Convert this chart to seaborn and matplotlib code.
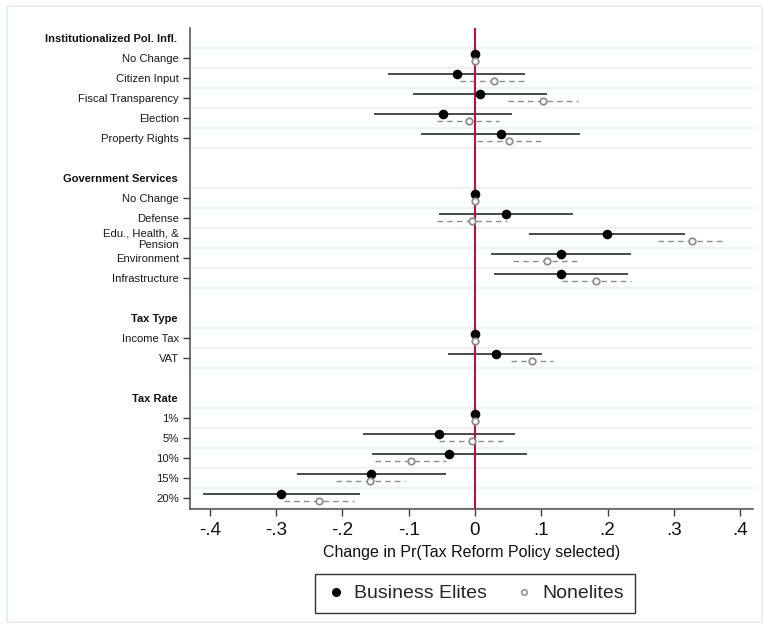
import numpy as np
import pandas as pd
import matplotlib
matplotlib.use("Agg")
import matplotlib.pyplot as plt
import seaborn as sns
from matplotlib.lines import Line2D
from matplotlib.patches import Rectangle

# Attribute groups and their levels (top to bottom)
group_titles = ["Institutionalized Pol. Infl.", "Government Services", "Tax Type", "Tax Rate"]
group_terms = [
    ["No Change", "Citizen Input", "Fiscal Transparency", "Election", "Property Rights"],
    ["No Change", "Defense", "Edu., Health, &\nPension", "Environment", "Infrastructure"],
    ["Income Tax", "VAT"],
    ["1%", "5%", "10%", "15%", "20%"],
]

# Business elites: AMCE point estimates and 95% CI bounds
elite_est = [0, -0.027, 0.008, -0.048, 0.039,
             0, 0.047, 0.199, 0.130, 0.130,
             0, 0.031,
             0, -0.054, -0.039, -0.157, -0.292]
elite_lo = [0, -0.131, -0.094, -0.152, -0.081,
            0, -0.054, 0.081, 0.024, 0.029,
            0, -0.041,
            0, -0.169, -0.156, -0.269, -0.410]
elite_hi = [0, 0.075, 0.109, 0.056, 0.159,
            0, 0.148, 0.317, 0.235, 0.231,
            0, 0.101,
            0, 0.061, 0.078, -0.044, -0.173]

# Nonelites: AMCE point estimates and 95% CI bounds
non_est = [0, 0.028, 0.103, -0.009, 0.052,
           0, -0.004, 0.328, 0.109, 0.182,
           0, 0.086,
           0, -0.004, -0.097, -0.158, -0.235]
non_lo = [0, -0.023, 0.050, -0.058, 0.003,
          0, -0.057, 0.276, 0.058, 0.131,
          0, 0.055,
          0, -0.054, -0.151, -0.210, -0.288]
non_hi = [0, 0.078, 0.156, 0.036, 0.103,
          0, 0.049, 0.379, 0.159, 0.235,
          0, 0.118,
          0, 0.047, -0.043, -0.106, -0.182]

x_ticks = [-0.4, -0.3, -0.2, -0.1, 0.0, 0.1, 0.2, 0.3, 0.4]
x_tick_labels = ["-.4", "-.3", "-.2", "-.1", "0", ".1", ".2", ".3", ".4"]
series_names = ["Business Elites", "Nonelites"]

# Row layout: heading, its levels, then one blank row before the next heading
header_pos, term_labels, term_pos = [], [], []
p = -1
for title, terms in zip(group_titles, group_terms):
    header_pos.append(p)
    for j, t in enumerate(terms):
        term_labels.append(t)
        term_pos.append(p + 1 + j)
    p += len(terms) + 2
term_pos = np.array(term_pos, dtype=float)

df = pd.concat([
    pd.DataFrame({"term": term_labels, "row": term_pos - 0.17, "est": elite_est,
                  "lo": elite_lo, "hi": elite_hi, "who": series_names[0]}),
    pd.DataFrame({"term": term_labels, "row": term_pos + 0.18, "est": non_est,
                  "lo": non_lo, "hi": non_hi, "who": series_names[1]}),
], ignore_index=True)

sns.set_theme(style="white")
plt.rcParams["font.family"] = ["Liberation Sans", "DejaVu Sans"]

W, H = 763, 630
fig = plt.figure(figsize=(W / 100, H / 100), dpi=100)
fig.patch.set_facecolor("white")
# light outer frame of the graph region
fig.add_artist(Rectangle((7 / W, 1 - 622 / H), (762 - 7) / W, (622 - 6) / H,
                         transform=fig.transFigure, fill=False,
                         edgecolor="#e4ecee", linewidth=1.2))

ax = fig.add_axes([190 / W, 1 - 509 / H, (753 - 190) / W, (509 - 28) / H])
ax.set_xlim(-0.43, 0.4195)
ax.set_ylim(22.575, -1.475)

# gridlines between rows
grid_rows = []
for hp, terms in zip(header_pos, group_terms):
    grid_rows += [hp + 0.5 + k for k in range(len(terms) + 1)]
for g in grid_rows:
    ax.axhline(g, color="#eaf2f4", linewidth=1.3, zorder=0)

ax.axvline(0, color="#b8123f", linewidth=1.5, zorder=3)

elite = df[df["who"] == series_names[0]]
non = df[df["who"] == series_names[1]]
ax.hlines(elite["row"], elite["lo"], elite["hi"], color="#2b2b2b", linewidth=1.2, zorder=2)
ax.hlines(non["row"], non["lo"], non["hi"], color="#8e8e8e", linewidth=1.0,
          linestyles=(0, (4, 3)), zorder=2)

sns.scatterplot(data=elite, x="est", y="row", ax=ax, color="black", s=48,
                edgecolor="black", linewidth=0, zorder=4, legend=False)
sns.scatterplot(data=non, x="est", y="row", ax=ax, color="#8e8e8e", s=22,
                facecolors="white", edgecolor="#8e8e8e", linewidth=1.3,
                zorder=4, legend=False)

ax.set_yticks(term_pos)
ax.set_yticklabels(term_labels, fontsize=8.1, color="#1a1a1a")
ax.set_xticks(x_ticks)
ax.set_xticklabels(x_tick_labels, fontsize=13.5, color="#111111")
ax.tick_params(axis="y", length=5, width=1, color="#404040", pad=3, left=True)
ax.tick_params(axis="x", length=5, width=1, color="#404040", pad=4.5, bottom=True)

for hp, title in zip(header_pos, group_titles):
    ax.annotate(title, xy=(0, hp), xycoords=ax.get_yaxis_transform(),
                xytext=(-9.1, -1), textcoords="offset points", ha="right",
                va="center", fontsize=8.0, fontweight="bold", color="#111111")

ax.set_xlabel("Change in Pr(Tax Reform Policy selected)", fontsize=11.5,
              color="#111111", labelpad=4)
ax.set_ylabel("")

for side in ["top", "right"]:
    ax.spines[side].set_visible(False)
for side in ["left", "bottom"]:
    ax.spines[side].set_color("#4a4a4a")
    ax.spines[side].set_linewidth(1.1)

handles = [
    Line2D([], [], linestyle="none", marker="o", markersize=5.5,
           markerfacecolor="black", markeredgecolor="black"),
    Line2D([], [], linestyle="none", marker="o", markersize=4,
           markerfacecolor="white", markeredgecolor="#8e8e8e", markeredgewidth=1.1),
]
leg = fig.legend(handles, series_names, loc="center", bbox_to_anchor=(475 / W, 1 - 593.5 / H),
                 ncol=2, frameon=True, fancybox=False, fontsize=14,
                 handlelength=1.0, handletextpad=0.45, columnspacing=1.4,
                 borderpad=0.55)
leg.get_frame().set_edgecolor("black")
leg.get_frame().set_linewidth(1.0)

# tighten the two-line level label once the tick labels exist
fig.canvas.draw()
for lbl in ax.get_yticklabels():
    lbl.set_linespacing(1.15)

fig.savefig("out.png", dpi=100)
